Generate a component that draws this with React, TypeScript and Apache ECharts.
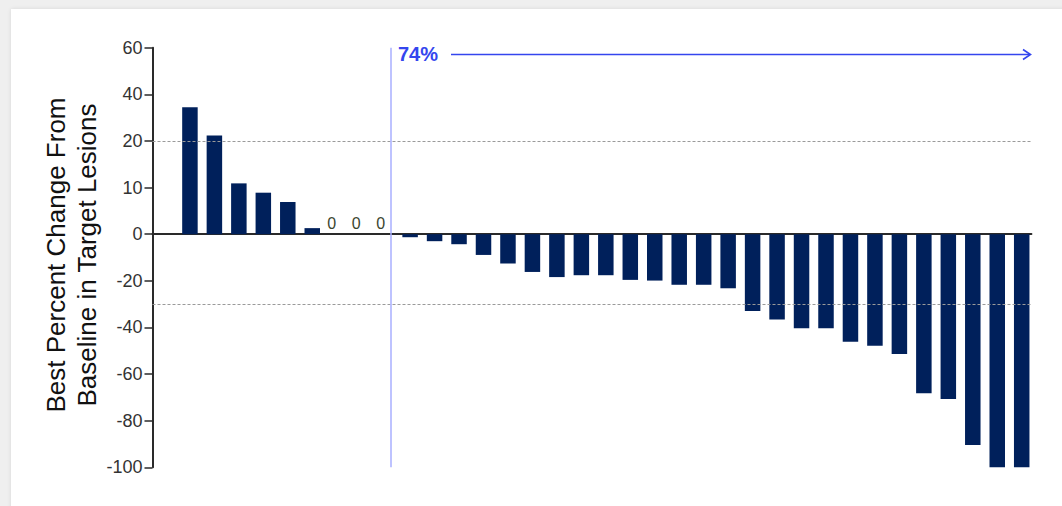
import React, { useEffect, useRef } from "react";
import * as echarts from "echarts";

// Best percent change from baseline, one bar per patient, ordered as plotted
const bestChange: number[] = [
  34.5, 22.3, 10.9, 8.9, 6.9, 1.3, 0, 0, 0,
  -1.3, -3.0, -4.3, -8.9, -12.6, -16.2, -18.4, -17.6, -17.6, -19.6, -19.9,
  -21.7, -21.7, -23.2, -32.9, -36.6, -40.3, -40.3, -46.1, -47.9, -51.4,
  -68.2, -70.7, -90.4, -100, -100,
];

// Tick labels of the broken value scale, bottom to top, drawn equally spaced
const yTicks: number[] = [-100, -80, -60, -40, -20, 0, 10, 20, 40, 60];

// Reference lines (progression / response thresholds)
const thresholds: number[] = [20, -30];

// Where the responders begin and the share of patients with shrinkage
const responderDivider = 9.2;
const responseRateLabel = "74%";

const ZERO_INDEX = yTicks.indexOf(0);

// Map a percent value onto the evenly spaced tick positions
function toAxis(v: number): number {
  if (v <= yTicks[0]) return -ZERO_INDEX;
  for (let i = 0; i < yTicks.length - 1; i++) {
    const a = yTicks[i];
    const b = yTicks[i + 1];
    if (v >= a && v <= b) {
      return i - ZERO_INDEX + (v - a) / (b - a);
    }
  }
  return yTicks.length - 1 - ZERO_INDEX;
}

function tickLabel(pos: number): string {
  const idx = Math.round(pos) + ZERO_INDEX;
  return idx >= 0 && idx < yTicks.length ? String(yTicks[idx]) : "";
}

const FONT = "Liberation Sans, Arial, sans-serif";
const BAR = "#00205b";
const BLUE = "#3446ee";
const AXIS = "#2a2a2a";

export default function App() {
  const ref = useRef<HTMLDivElement>(null);

  useEffect(() => {
    if (!ref.current) return;
    const chart = echarts.init(ref.current, undefined, { renderer: "svg" });

    const barData = bestChange.map((v, i) => {
      const item: any = { value: [i + 1, toAxis(v)] };
      if (v === 0) {
        item.label = {
          show: true,
          position: "top",
          distance: 3,
          offset: [-5, 0],
          formatter: () => String(v),
          fontFamily: FONT,
          fontSize: 16,
          color: "#3b4630",
        };
      }
      return item;
    });

    chart.setOption({
      animation: false,
      grid: { left: 152.5, right: 30.5, top: 47.7, bottom: 38.7, containLabel: false },
      xAxis: {
        type: "value",
        min: -0.53,
        max: 35.4,
        axisLine: { show: true, onZero: true, lineStyle: { color: AXIS, width: 1.8 } },
        axisTick: { show: false },
        axisLabel: { show: false },
        splitLine: { show: false },
      },
      yAxis: {
        type: "value",
        min: -ZERO_INDEX,
        max: yTicks.length - 1 - ZERO_INDEX,
        interval: 1,
        axisLine: { show: true, onZero: false, lineStyle: { color: AXIS, width: 2 } },
        axisTick: { show: true, length: 8, lineStyle: { color: AXIS, width: 1.5 } },
        axisLabel: {
          margin: 10,
          formatter: (val: number) => tickLabel(val),
          fontFamily: FONT,
          fontSize: 18,
          color: "#333",
        },
        splitLine: { show: false },
      },
      series: [
        {
          type: "bar",
          data: barData,
          barWidth: 15.5,
          itemStyle: { color: BAR },
          markLine: {
            silent: true,
            symbol: "none",
            label: { show: false },
            data: [
              ...thresholds.map((t) => ({
                yAxis: toAxis(t),
                lineStyle: { color: "#9a9a9a", type: [3, 2], width: 1 },
              })),
              {
                xAxis: responderDivider,
                lineStyle: { color: "#a9afff", type: "solid", width: 1.5 },
              },
            ],
          },
        },
      ],
      graphic: [
        {
          type: "text",
          left: 398,
          top: 44,
          style: {
            text: responseRateLabel,
            font: `bold 20px ${FONT}`,
            fill: BLUE,
          },
        },
        {
          type: "line",
          shape: { x1: 451, y1: 54.5, x2: 1030, y2: 54.5 },
          style: { stroke: BLUE, lineWidth: 1.6 },
        },
        {
          type: "polyline",
          shape: { points: [[1023, 49.5], [1030.5, 54.5], [1023, 59.5]] },
          style: { stroke: BLUE, lineWidth: 1.6, fill: null },
        },
        {
          type: "text",
          x: 71.5,
          y: 255,
          rotation: Math.PI / 2,
          style: {
            text: "Best Percent Change From\nBaseline in Target Lesions",
            font: `26px ${FONT}`,
            fill: "#111",
            align: "center",
            verticalAlign: "middle",
            lineHeight: 31,
          },
        },
      ],
    });

    return () => chart.dispose();
  }, []);

  return (
    <div
      style={{
        position: "absolute",
        left: 0,
        top: 0,
        width: 1062,
        height: 506,
        background: "#efefef",
        overflow: "hidden",
      }}
    >
      <div
        style={{
          position: "absolute",
          left: 11,
          top: 9,
          right: -4,
          bottom: -4,
          background: "#fff",
          boxShadow: "0 0 4px rgba(0,0,0,0.10)",
        }}
      />
      <div
        ref={ref}
        style={{ position: "absolute", left: 0, top: 0, width: 1062, height: 506 }}
      />
    </div>
  );
}
